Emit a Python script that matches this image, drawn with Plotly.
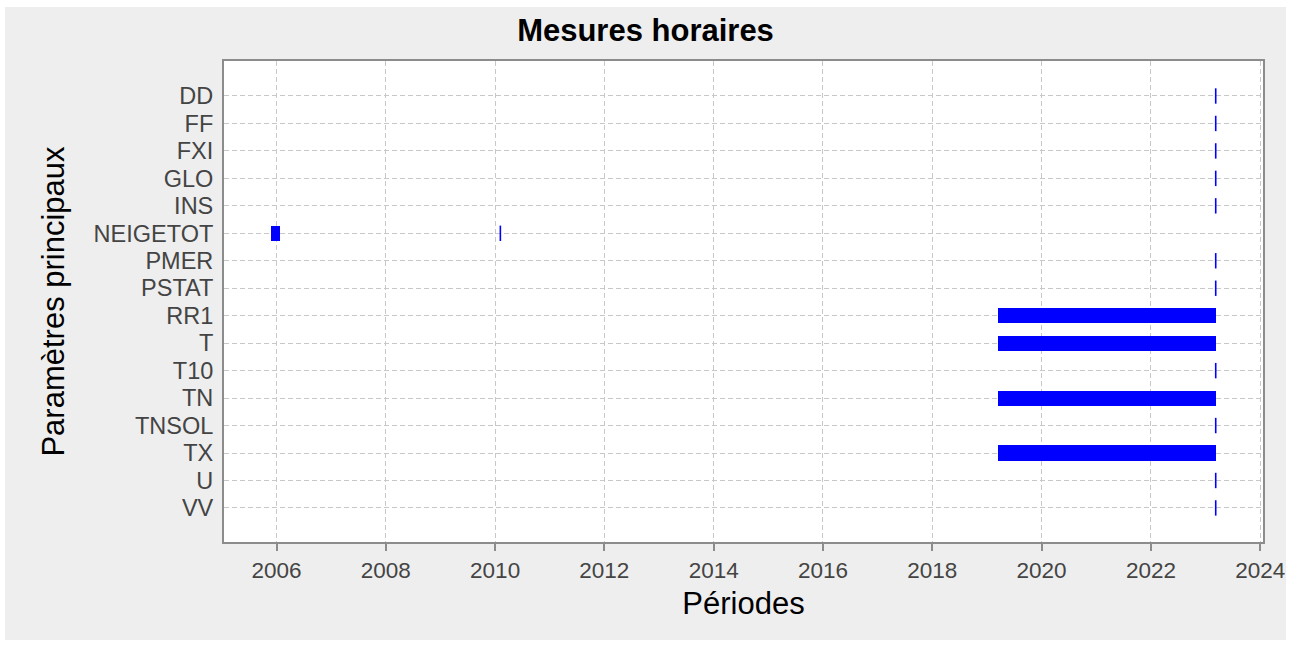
import plotly.graph_objects as go
import pandas as pd

# Parameters (y categories, top to bottom)
params = ["DD", "FF", "FXI", "GLO", "INS", "NEIGETOT", "PMER", "PSTAT",
          "RR1", "T", "T10", "TN", "TNSOL", "TX", "U", "VV"]

# Measurement periods (start / end dates) per parameter
seg_param = ["NEIGETOT", "RR1", "T", "TN", "TX"]
seg_start = ["2005-11-28", "2019-03-18", "2019-03-18", "2019-03-18", "2019-03-18"]
seg_end = ["2006-01-24", "2023-03-10", "2023-03-10", "2023-03-10", "2023-03-10"]

# Single measurement instants
inst_param = ["DD", "FF", "FXI", "GLO", "INS", "NEIGETOT", "PMER", "PSTAT",
              "T10", "TNSOL", "U", "VV"]
inst_date = ["2023-03-10", "2023-03-10", "2023-03-10", "2023-03-10", "2023-03-10",
             "2010-02-05", "2023-03-10", "2023-03-10", "2023-03-10", "2023-03-10",
             "2023-03-10", "2023-03-10"]

x_range = ["2005-01-15", "2024-01-20"]
tick_years = [str(y) for y in range(2006, 2025, 2)]

starts = pd.to_datetime(seg_start)
ends = pd.to_datetime(seg_end)
durations_ms = [(e - s).total_seconds() * 1000 for s, e in zip(starts, ends)]

fig = go.Figure()
fig.add_trace(go.Bar(
    orientation="h", y=seg_param, base=seg_start, x=durations_ms,
    width=0.55, marker=dict(color="#0000ff", line=dict(width=0)),
    showlegend=False, hoverinfo="skip",
))
fig.add_trace(go.Scatter(
    x=inst_date, y=inst_param, mode="markers",
    marker=dict(symbol="line-ns", size=11, line=dict(color="#0000ff", width=1.6)),
    showlegend=False, hoverinfo="skip",
))

FONT = "Liberation Sans, Arial, sans-serif"
fig.update_layout(
    width=1281, height=633, autosize=False,
    paper_bgcolor="#eeeeee", plot_bgcolor="#ffffff",
    margin=dict(l=219, r=23, t=54, b=98, pad=0),
    font=dict(family=FONT, color="#444444"),
    title=dict(text="<b>Mesures horaires</b>", x=0.5, xref="container", xanchor="center",
               y=1 - 23 / 633, yref="container", yanchor="middle",
               font=dict(size=31, color="#000000", family=FONT)),
    bargap=0,
)
fig.update_xaxes(
    type="date", range=x_range, automargin=False,
    tickvals=[y + "-01-01" for y in tick_years], ticktext=tick_years,
    ticks="outside", ticklen=7, tickwidth=2, tickcolor="#8c8c8c",
    tickfont=dict(size=22.5, color="#444444"),
    showline=True, linecolor="#8c8c8c", linewidth=2, mirror=True,
    showgrid=True, gridcolor="#c8c8c8", gridwidth=1, griddash="5px,3px",
    zeroline=False,
    title=dict(text="Périodes", font=dict(size=31, color="#000000"), standoff=10),
)
fig.update_yaxes(
    type="category", categoryorder="array", categoryarray=params,
    tickmode="array", tickvals=params, ticktext=params,
    range=[16.24, -1.274], automargin=False,
    ticks="", ticklabelstandoff=4,
    tickfont=dict(size=23.5, color="#444444"),
    showline=True, linecolor="#8c8c8c", linewidth=2, mirror=True,
    showgrid=True, gridcolor="#c8c8c8", gridwidth=1, griddash="5px,3px",
    zeroline=False,
    title=dict(text="Paramètres principaux", font=dict(size=31, color="#000000"), standoff=20),
)

fig.write_html("out.html", post_script="document.body.style.margin='7px 0 0 5px';")
